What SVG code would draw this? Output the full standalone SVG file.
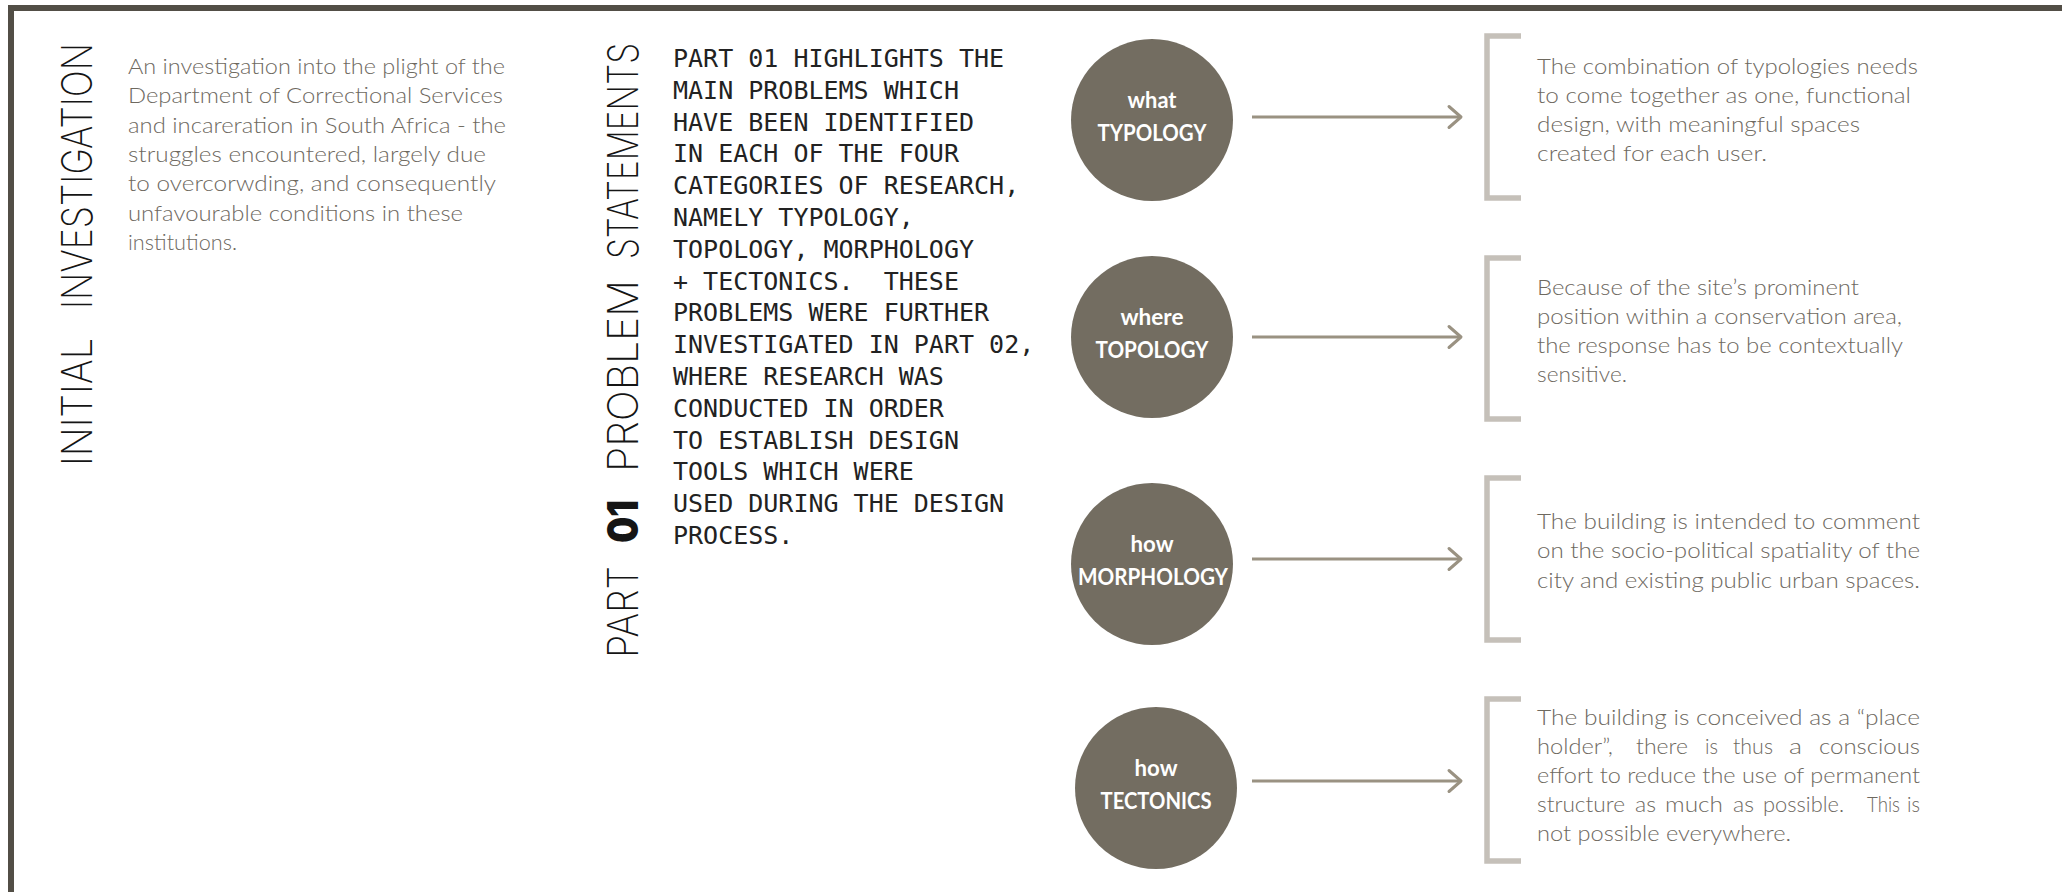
<svg xmlns="http://www.w3.org/2000/svg" width="2062" height="892" viewBox="0 0 2062 892">
<defs>
<style>
.frame{fill:#524e46}
.vtitle{font-family:Inter,Roboto,"DejaVu Sans",sans-serif;font-weight:200;font-size:42px;fill:#151515}
.vbold{font-family:Inter,Roboto,"DejaVu Sans",sans-serif;font-weight:900;font-size:42px;fill:#151515}
.gray{font-family:Lato,"Open Sans","Liberation Sans",sans-serif;font-weight:300;font-size:21px;fill:#6e695f}
.mono{font-family:"DejaVu Sans Mono","Liberation Mono",monospace;font-size:25px;fill:#222222;white-space:pre}
.circ{fill:#736d61}
.lbl{font-family:Lato,"Open Sans","Liberation Sans",sans-serif;font-weight:700;font-size:22px;fill:#ffffff;text-anchor:middle}
.arrow{stroke:#9a9282;stroke-width:3;fill:none}
.bracket{stroke:#c5c0b9;stroke-width:5.5;fill:none}
</style>
<marker id="chev" viewBox="0 0 30 30" refX="15" refY="15" markerWidth="30" markerHeight="30" markerUnits="userSpaceOnUse" orient="auto">
<path d="M3,4.5 L15,15 L3,25.5" fill="none" stroke="#9a9282" stroke-width="3" stroke-linecap="round" stroke-linejoin="round"/>
</marker>
</defs>
<rect width="2062" height="892" fill="#ffffff"/>
<g id="frame">
<rect class="frame" x="8" y="5" width="2054" height="6"/>
<rect class="frame" x="8" y="5" width="6" height="887"/>
</g>
<g id="initial-investigation">
<g transform="translate(92,466) rotate(-90)">
<text class="vtitle" x="0" y="0" textLength="128" lengthAdjust="spacingAndGlyphs">INITIAL</text>
<text class="vtitle" x="157" y="0" textLength="266" lengthAdjust="spacingAndGlyphs">INVESTIGATION</text>
</g>
<text class="gray" x="128" y="74" textLength="377" lengthAdjust="spacingAndGlyphs">An investigation into the plight of the</text>
<text class="gray" x="128" y="103" textLength="375" lengthAdjust="spacingAndGlyphs">Department of Correctional Services</text>
<text class="gray" x="128" y="133" textLength="378" lengthAdjust="spacingAndGlyphs">and incareration in South Africa - the</text>
<text class="gray" x="128" y="162" textLength="358" lengthAdjust="spacingAndGlyphs">struggles encountered, largely due</text>
<text class="gray" x="128" y="191" textLength="368" lengthAdjust="spacingAndGlyphs">to overcorwding, and consequently</text>
<text class="gray" x="128" y="221" textLength="335" lengthAdjust="spacingAndGlyphs">unfavourable conditions in these</text>
<text class="gray" x="128" y="250" textLength="109" lengthAdjust="spacingAndGlyphs">institutions.</text>
</g>
<g id="problem-statements">
<g transform="translate(638,658) rotate(-90)">
<text class="vtitle" x="0" y="0" textLength="92" lengthAdjust="spacingAndGlyphs">PART</text>
<text class="vbold" x="115" y="0" textLength="43" lengthAdjust="spacingAndGlyphs">01</text>
<text class="vtitle" x="186" y="0" textLength="192" lengthAdjust="spacingAndGlyphs">PROBLEM</text>
<text class="vtitle" x="399" y="0" textLength="216" lengthAdjust="spacingAndGlyphs">STATEMENTS</text>
</g>
<text class="mono" x="673" y="67">PART 01 HIGHLIGHTS THE</text>
<text class="mono" x="673" y="99">MAIN PROBLEMS WHICH</text>
<text class="mono" x="673" y="131">HAVE BEEN IDENTIFIED</text>
<text class="mono" x="673" y="162">IN EACH OF THE FOUR</text>
<text class="mono" x="673" y="194">CATEGORIES OF RESEARCH,</text>
<text class="mono" x="673" y="226">NAMELY TYPOLOGY,</text>
<text class="mono" x="673" y="258">TOPOLOGY, MORPHOLOGY</text>
<text class="mono" x="673" y="290">+ TECTONICS.  THESE</text>
<text class="mono" x="673" y="321">PROBLEMS WERE FURTHER</text>
<text class="mono" x="673" y="353">INVESTIGATED IN PART 02,</text>
<text class="mono" x="673" y="385">WHERE RESEARCH WAS</text>
<text class="mono" x="673" y="417">CONDUCTED IN ORDER</text>
<text class="mono" x="673" y="449">TO ESTABLISH DESIGN</text>
<text class="mono" x="673" y="480">TOOLS WHICH WERE</text>
<text class="mono" x="673" y="512">USED DURING THE DESIGN</text>
<text class="mono" x="673" y="544">PROCESS.</text>
</g>
<g id="node-typology">
<circle class="circ" cx="1152" cy="120" r="81"/>
<text class="lbl" x="1152" y="108" textLength="49" lengthAdjust="spacingAndGlyphs">what</text>
<text class="lbl" x="1152" y="141" textLength="109" lengthAdjust="spacingAndGlyphs">TYPOLOGY</text>
</g>
<g id="node-topology">
<circle class="circ" cx="1152" cy="337" r="81"/>
<text class="lbl" x="1152" y="325" textLength="63" lengthAdjust="spacingAndGlyphs">where</text>
<text class="lbl" x="1152" y="358" textLength="113" lengthAdjust="spacingAndGlyphs">TOPOLOGY</text>
</g>
<g id="node-morphology">
<circle class="circ" cx="1152" cy="564" r="81"/>
<text class="lbl" x="1152" y="552" textLength="43" lengthAdjust="spacingAndGlyphs">how</text>
<text class="lbl" x="1153" y="585" textLength="150" lengthAdjust="spacingAndGlyphs">MORPHOLOGY</text>
</g>
<g id="node-tectonics">
<circle class="circ" cx="1156" cy="788" r="81"/>
<text class="lbl" x="1156" y="776" textLength="43" lengthAdjust="spacingAndGlyphs">how</text>
<text class="lbl" x="1156" y="809" textLength="111" lengthAdjust="spacingAndGlyphs">TECTONICS</text>
</g>
<g id="connectors">
<line class="arrow" x1="1252" y1="117" x2="1461" y2="117" marker-end="url(#chev)"/>
<line class="arrow" x1="1252" y1="337" x2="1461" y2="337" marker-end="url(#chev)"/>
<line class="arrow" x1="1252" y1="559" x2="1461" y2="559" marker-end="url(#chev)"/>
<line class="arrow" x1="1252" y1="781" x2="1461" y2="781" marker-end="url(#chev)"/>
</g>
<g id="statement-typology">
<path class="bracket" d="M1521,36 H1487 V198 H1521"/>
<text class="gray" x="1537" y="74" textLength="381" lengthAdjust="spacingAndGlyphs">The combination of typologies needs</text>
<text class="gray" x="1537" y="103" textLength="374" lengthAdjust="spacingAndGlyphs">to come together as one, functional</text>
<text class="gray" x="1537" y="132" textLength="323" lengthAdjust="spacingAndGlyphs">design, with meaningful spaces</text>
<text class="gray" x="1537" y="161" textLength="230" lengthAdjust="spacingAndGlyphs">created for each user.</text>
</g>
<g id="statement-topology">
<path class="bracket" d="M1521,258 H1487 V419 H1521"/>
<text class="gray" x="1537" y="295" textLength="322" lengthAdjust="spacingAndGlyphs">Because of the site’s prominent</text>
<text class="gray" x="1537" y="324" textLength="365" lengthAdjust="spacingAndGlyphs">position within a conservation area,</text>
<text class="gray" x="1537" y="353" textLength="366" lengthAdjust="spacingAndGlyphs">the response has to be contextually</text>
<text class="gray" x="1537" y="382" textLength="90" lengthAdjust="spacingAndGlyphs">sensitive.</text>
</g>
<g id="statement-morphology">
<path class="bracket" d="M1521,478 H1487 V640 H1521"/>
<text class="gray" x="1537" y="529" textLength="383" lengthAdjust="spacingAndGlyphs">The building is intended to comment</text>
<text class="gray" x="1537" y="558" textLength="383" lengthAdjust="spacingAndGlyphs">on the socio-political spatiality of the</text>
<text class="gray" x="1537" y="588" textLength="383" lengthAdjust="spacingAndGlyphs">city and existing public urban spaces.</text>
</g>
<g id="statement-tectonics">
<path class="bracket" d="M1521,699 H1487 V861 H1521"/>
<text class="gray" x="1537" y="725" textLength="383" lengthAdjust="spacingAndGlyphs">The building is conceived as a “place</text>
<text class="gray" y="754"><tspan x="1537" textLength="76" lengthAdjust="spacingAndGlyphs">holder”,</tspan> <tspan x="1636" textLength="52" lengthAdjust="spacingAndGlyphs">there</tspan> <tspan x="1705" textLength="13" lengthAdjust="spacingAndGlyphs">is</tspan> <tspan x="1733" textLength="40" lengthAdjust="spacingAndGlyphs">thus</tspan> <tspan x="1789" textLength="13" lengthAdjust="spacingAndGlyphs">a</tspan> <tspan x="1819" textLength="101" lengthAdjust="spacingAndGlyphs">conscious</tspan></text>
<text class="gray" x="1537" y="783" textLength="383" lengthAdjust="spacingAndGlyphs">effort to reduce the use of permanent</text>
<text class="gray" y="812"><tspan x="1537" textLength="88" lengthAdjust="spacingAndGlyphs">structure</tspan> <tspan x="1635" textLength="21" lengthAdjust="spacingAndGlyphs">as</tspan> <tspan x="1665" textLength="58" lengthAdjust="spacingAndGlyphs">much</tspan> <tspan x="1733" textLength="21" lengthAdjust="spacingAndGlyphs">as</tspan> <tspan x="1763" textLength="81" lengthAdjust="spacingAndGlyphs">possible.</tspan> <tspan x="1867" textLength="33" lengthAdjust="spacingAndGlyphs">This</tspan> <tspan x="1907" textLength="13" lengthAdjust="spacingAndGlyphs">is</tspan></text>
<text class="gray" x="1537" y="841" textLength="254" lengthAdjust="spacingAndGlyphs">not possible everywhere.</text>
</g>
</svg>
